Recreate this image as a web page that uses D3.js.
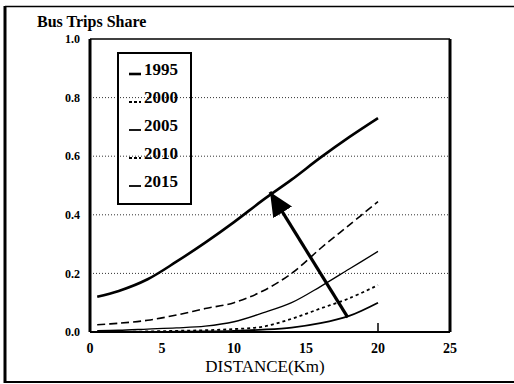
<!DOCTYPE html>
<html>
<head>
<meta charset="utf-8">
<style>
  body { margin: 0; background: #fff; }
  svg { display: block; font-family: "Liberation Serif", "DejaVu Serif", serif; }
</style>
</head>
<body>
<div id="chart"></div>
<script src="https://cdn.jsdelivr.net/npm/d3@7"></script>
<script>
// distance (km) where each curve was read
const distance = [0.5, 2, 4, 6, 8, 10, 12, 14, 16, 18, 20];

// bus trip share
const share1995 = [0.12, 0.14, 0.18, 0.24, 0.305, 0.375, 0.45, 0.52, 0.595, 0.665, 0.73];
const share2000 = [0.025, 0.03, 0.04, 0.058, 0.08, 0.10, 0.14, 0.20, 0.285, 0.365, 0.445];
const share2005 = [0.005, 0.006, 0.01, 0.014, 0.02, 0.035, 0.065, 0.10, 0.155, 0.215, 0.275];
const share2010 = [0, 0, 0.002, 0.004, 0.006, 0.01, 0.018, 0.045, 0.08, 0.115, 0.16];
const share2015 = [0, 0, 0, 0.001, 0.002, 0.004, 0.008, 0.015, 0.03, 0.055, 0.10];

const years = ["1995", "2000", "2005", "2010", "2015"];
const xTicks = [0, 5, 10, 15, 20, 25];
const yTicks = [0, 0.2, 0.4, 0.6, 0.8, 1.0];

// arrow annotation, in data units: [distance, share]
const arrowFrom = [17.9, 0.05];
const arrowTo = [12.5, 0.478];

const series = [share1995, share2000, share2005, share2010, share2015];
// line looks per series (thick solid, long dash, thin solid, dots, solid)
const styles = [
  { w: 2.6, dash: null },
  { w: 1.6, dash: "8,4" },
  { w: 1.3, dash: null },
  { w: 1.8, dash: "3,3" },
  { w: 1.8, dash: null }
];

const width = 514, height = 384;
const margin = { top: 39, right: 64, bottom: 52, left: 90 };

const svg = d3.select("#chart").append("svg")
  .attr("width", width)
  .attr("height", height);

// outer frame of the scanned figure
svg.append("line").attr("x1", 5).attr("x2", 5).attr("y1", 6).attr("y2", 383)
  .attr("stroke", "#000").attr("stroke-width", 3);
svg.append("line").attr("x1", 5).attr("x2", width).attr("y1", 6.5).attr("y2", 6.5)
  .attr("stroke", "#000").attr("stroke-width", 1.5);
svg.append("line").attr("x1", 5).attr("x2", width).attr("y1", 382).attr("y2", 382)
  .attr("stroke", "#000").attr("stroke-width", 2);

const x = d3.scaleLinear().domain([0, 25]).range([margin.left, width - margin.right]);
const y = d3.scaleLinear().domain([0, 1]).range([height - margin.bottom, margin.top]);

// dotted grid
svg.append("g")
  .selectAll("line")
  .data(yTicks.filter(d => d > 0 && d < 1))
  .enter().append("line")
  .attr("x1", x(0)).attr("x2", x(25))
  .attr("y1", d => y(d)).attr("y2", d => y(d))
  .attr("stroke", "#333")
  .attr("stroke-width", 1)
  .attr("stroke-dasharray", "1,2");

// curves
const line = d3.line()
  .x((d, i) => x(distance[i]))
  .y(d => y(Math.max(d, 0)))
  .curve(d3.curveCatmullRom.alpha(0.5));

svg.append("g")
  .selectAll("path")
  .data(series)
  .enter().append("path")
  .attr("d", d => line(d))
  .attr("fill", "none")
  .attr("stroke", "#000")
  .attr("stroke-width", (d, i) => styles[i].w)
  .attr("stroke-dasharray", (d, i) => styles[i].dash);

// plot box
svg.append("line").attr("x1", x(0)).attr("x2", x(0)).attr("y1", y(1)).attr("y2", y(0))
  .attr("stroke", "#000").attr("stroke-width", 3);
svg.append("line").attr("x1", x(0)).attr("x2", x(25)).attr("y1", y(0)).attr("y2", y(0))
  .attr("stroke", "#000").attr("stroke-width", 2.2);
svg.append("line").attr("x1", x(25)).attr("x2", x(25)).attr("y1", y(1)).attr("y2", y(0))
  .attr("stroke", "#000").attr("stroke-width", 3);
svg.append("line").attr("x1", x(0)).attr("x2", x(25)).attr("y1", y(1)).attr("y2", y(1))
  .attr("stroke", "#000").attr("stroke-width", 1.5);

// inner tick on the x axis
svg.append("g")
  .selectAll("line")
  .data([20])
  .enter().append("line")
  .attr("x1", d => x(d)).attr("x2", d => x(d))
  .attr("y1", y(0)).attr("y2", y(0) - 9)
  .attr("stroke", "#000").attr("stroke-width", 1.5);

// tick labels
svg.append("g")
  .selectAll("text")
  .data(xTicks)
  .enter().append("text")
  .attr("x", d => x(d))
  .attr("y", 353)
  .attr("text-anchor", "middle")
  .attr("font-size", 14)
  .attr("font-weight", "bold")
  .text(d => d);

svg.append("g")
  .selectAll("text")
  .data(yTicks)
  .enter().append("text")
  .attr("x", 80)
  .attr("y", d => y(d))
  .attr("dy", "0.35em")
  .attr("text-anchor", "end")
  .attr("font-size", 12)
  .attr("font-weight", "bold")
  .text(d => d3.format(".1f")(d));

// titles
svg.append("text")
  .attr("x", 37).attr("y", 27)
  .attr("font-size", 16)
  .attr("font-weight", "bold")
  .text("Bus Trips Share");

svg.append("text")
  .attr("x", 265).attr("y", 372)
  .attr("text-anchor", "middle")
  .attr("font-size", 17)
  .text("DISTANCE(Km)");

// arrow
svg.append("defs").append("marker")
  .attr("id", "head")
  .attr("markerUnits", "userSpaceOnUse")
  .attr("viewBox", "0 0 24 22")
  .attr("refX", 24).attr("refY", 11)
  .attr("markerWidth", 24).attr("markerHeight", 22)
  .attr("orient", "auto")
  .append("path")
  .attr("d", "M0,0 L24,11 L0,22 Z")
  .attr("fill", "#000");

svg.append("line")
  .attr("x1", x(arrowFrom[0])).attr("y1", y(arrowFrom[1]))
  .attr("x2", x(arrowTo[0])).attr("y2", y(arrowTo[1]))
  .attr("stroke", "#000")
  .attr("stroke-width", 3.2)
  .attr("marker-end", "url(#head)");

// legend
const legend = svg.append("g");
legend.append("rect")
  .attr("x", 118).attr("y", 53)
  .attr("width", 73).attr("height", 151)
  .attr("fill", "none")
  .attr("stroke", "#000")
  .attr("stroke-width", 2);

const item = legend.selectAll("g.item")
  .data(years)
  .enter().append("g")
  .attr("class", "item")
  .attr("transform", (d, i) => `translate(0,${75 + i * 28})`);

item.append("line")
  .attr("x1", 129).attr("x2", 141)
  .attr("y1", -1).attr("y2", -1)
  .attr("stroke", "#000")
  .attr("stroke-width", (d, i) => Math.max(styles[i].w, 1.8))
  .attr("stroke-dasharray", (d, i) => styles[i].dash ? "3,2" : null);

item.append("text")
  .attr("x", 144)
  .attr("y", 0)
  .attr("font-size", 17)
  .attr("font-weight", "bold")
  .text(d => d);
</script>
</body>
</html>
